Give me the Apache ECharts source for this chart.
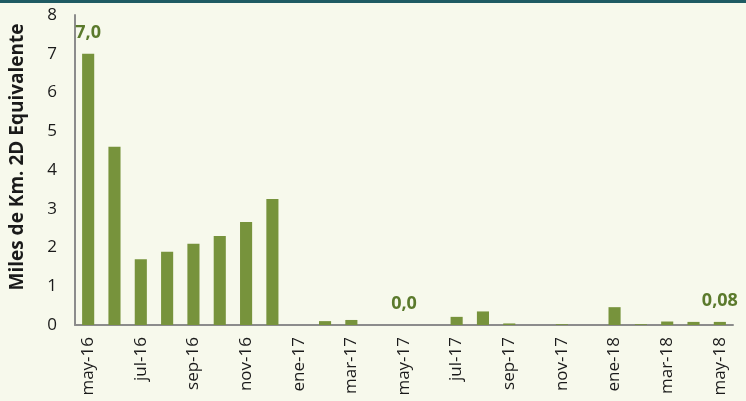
<!DOCTYPE html>
<html>
<head>
<meta charset="utf-8">
<script src="https://cdn.jsdelivr.net/npm/echarts@6/dist/echarts.min.js"></script>
<style>
  html, body { margin: 0; padding: 0; background: #f7f9ec; }
  #chart { width: 746px; height: 401px; }
</style>
</head>
<body>
<div id="chart"></div>
<script>
const months = ['may-16', 'jun-16', 'jul-16', 'ago-16', 'sep-16', 'oct-16', 'nov-16', 'dic-16',
    'ene-17', 'feb-17', 'mar-17', 'abr-17', 'may-17', 'jun-17', 'jul-17', 'ago-17', 'sep-17',
    'oct-17', 'nov-17', 'dic-17', 'ene-18', 'feb-18', 'mar-18', 'abr-18', 'may-18'];
const kmValues = [7.0, 4.6, 1.7, 1.89, 2.1, 2.3, 2.66, 3.25,
    0, 0.1, 0.13, 0, 0, 0, 0.21, 0.35, 0.04,
    0, 0.02, 0, 0.46, 0.02, 0.09, 0.08, 0.08];
// labels shown above a few bars
const barLabels = {0: '7,0', 12: '0,0', 24: '0,08'};
const yTicks = [0, 1, 2, 3, 4, 5, 6, 7, 8];

const chart = echarts.init(document.getElementById('chart'));

const seriesData = kmValues.map((v, i) => {
    const item = {value: v};
    if (barLabels[i] !== undefined) {
        item.label = {
            show: true,
            position: 'top',
            distance: 12,
            formatter: barLabels[i],
            color: '#5b7a2c',
            fontWeight: 'bold',
            fontSize: 18,
            fontFamily: 'Open Sans'
        };
    }
    return item;
});

const option = {
    backgroundColor: '#f7f9ec',
    animation: false,
    graphic: [{
        type: 'rect',
        left: 0,
        top: 0,
        shape: {width: 746, height: 3},
        style: {fill: '#1f5b63'}
    }],
    grid: {left: 74, right: 13, top: 15, bottom: 76},
    xAxis: {
        type: 'category',
        data: months,
        axisLine: {lineStyle: {color: '#8c8c8c', width: 2}},
        axisTick: {show: false},
        axisLabel: {
            interval: 1,
            rotate: 90,
            margin: 12,
            color: '#1a1a1a',
            fontSize: 17,
            fontFamily: 'Open Sans'
        }
    },
    yAxis: {
        type: 'value',
        min: yTicks[0],
        max: yTicks[yTicks.length - 1],
        interval: 1,
        name: 'Miles de Km. 2D Equivalente',
        nameLocation: 'middle',
        nameGap: 48,
        nameTextStyle: {
            color: '#1a1a1a',
            fontWeight: 'bold',
            fontSize: 19,
            fontFamily: 'Open Sans',
            padding: [0, 0, 0, 26]
        },
        axisLine: {show: true, lineStyle: {color: '#8c8c8c', width: 2}},
        axisTick: {show: false},
        splitLine: {show: false},
        axisLabel: {
            margin: 18,
            color: '#1a1a1a',
            fontSize: 17,
            fontFamily: 'Open Sans'
        }
    },
    series: [{
        type: 'bar',
        data: seriesData,
        barWidth: '46%',
        itemStyle: {color: '#77933c'}
    }]
};

chart.setOption(option);
</script>
</body>
</html>
